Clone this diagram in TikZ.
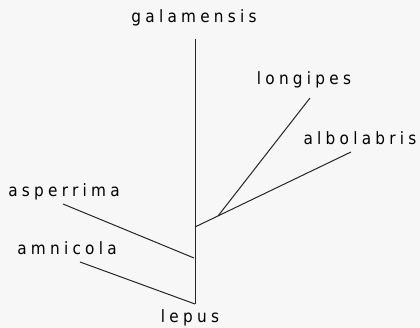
\documentclass[tikz,border=0pt]{standalone}
\usepackage{fontspec}
\setmainfont{DejaVu Sans Condensed}[LetterSpace=25]
\begin{document}
\begin{tikzpicture}[x=1pt,y=-1pt,
  lbl/.style={inner sep=0pt,font=\fontsize{17}{19}\selectfont},
  branch/.style={line width=1pt,black!85}]
\useasboundingbox (0,0) rectangle (420,328);
\fill[white!97!black] (0,0) rectangle (420,328);
\node[lbl] (gal) at (194,18) {galamensis};
\node[lbl] (lon) at (304,80) {longipes};
\node[lbl] (alb) at (360,138) {albolabris};
\node[lbl] (asp) at (64,192) {asperrima};
\node[lbl] (amn) at (67,248) {amnicola};
\node[lbl] (lep) at (190,318) {lepus};
\coordinate (top) at (195,39);
\coordinate (bot) at (195,304);
\coordinate (j1) at (195,227);
\coordinate (j2) at (218,216);
\coordinate (j3) at (194,258);
\coordinate (lonE) at (310,98);
\coordinate (albE) at (351,152);
\coordinate (aspE) at (63,204);
\coordinate (amnE) at (80,262);
\draw[branch] (top) -- (bot);
\draw[branch] (j1) -- (albE);
\draw[branch] (j2) -- (lonE);
\draw[branch] (aspE) -- (j3);
\draw[branch] (amnE) -- (bot);
\end{tikzpicture}
\end{document}
